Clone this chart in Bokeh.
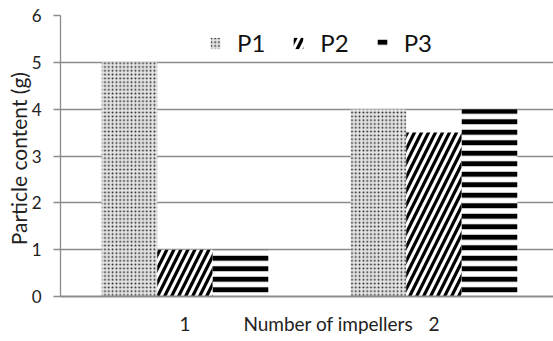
from bokeh.plotting import figure
from bokeh.models import Range1d, FixedTicker, Legend, LegendItem
from bokeh.embed import file_html
from bokeh.resources import INLINE

groups = ["1", "2"]
series = ["P1", "P2", "P3"]
p1 = [5, 4]
p2 = [1, 3.5]
p3 = [1, 4]
y_ticks = [0, 1, 2, 3, 4, 5, 6]
x_title = "Number of impellers"
y_title = "Particle  content (g)"

FONT = "Lato"
GRAY = "#8c8c8c"
X_TITLE_POS = 1.076   # where the x title sits along the category axis (layout only)

p = figure(width=553, height=341, output_backend="svg", toolbar_location=None,
           x_range=Range1d(0, 1.98), y_range=Range1d(0, 6),
           min_border_left=60, min_border_right=0, min_border_top=15, min_border_bottom=45)
p.outline_line_color = None
p.background_fill_color = "white"

centers = [i + 0.5 for i in range(len(groups))]
bw = 0.223
offs = [-bw, 0, bw]

styles = [
    dict(fill_color="#e4e4e4", hatch_pattern="dot", hatch_color="#222222", hatch_scale=3.8, hatch_weight=2.2),
    dict(fill_color="white", hatch_pattern="right_diagonal_line", hatch_color="black", hatch_scale=14, hatch_weight=3.2),
    dict(fill_color="white", hatch_pattern="horizontal_line", hatch_color="black", hatch_scale=10.5, hatch_weight=5),
]
renderers = []
for vals, off, st in zip([p1, p2, p3], offs, styles):
    r = p.vbar(x=[c + off for c in centers], top=vals, bottom=0, width=bw, line_color=None, **st)
    renderers.append(r)

# grid
p.xgrid.grid_line_color = None
p.ygrid.grid_line_color = GRAY
p.ygrid.grid_line_width = 1.3
p.ygrid.ticker = FixedTicker(ticks=y_ticks)

# y axis
p.yaxis.ticker = FixedTicker(ticks=y_ticks)
p.yaxis.axis_line_color = GRAY
p.yaxis.axis_line_width = 1.3
p.yaxis.major_tick_line_color = GRAY
p.yaxis.major_tick_line_width = 1.3
p.yaxis.major_tick_out = 7
p.yaxis.major_tick_in = 0
p.yaxis.minor_tick_line_color = None
p.yaxis.major_label_standoff = 12
p.yaxis.major_label_text_font = FONT
p.yaxis.major_label_text_font_size = "17px"
p.yaxis.major_label_text_color = "#222222"
p.yaxis.axis_label = y_title
p.yaxis.axis_label_text_font = FONT
p.yaxis.axis_label_text_font_size = "21px"
p.yaxis.axis_label_text_font_style = "normal"
p.yaxis.axis_label_text_color = "#222222"
p.yaxis.axis_label_standoff = -2

# x axis: category labels and the axis title share one line, as in the reference
x_label_ticks = centers + [X_TITLE_POS]
overrides = {c: g for c, g in zip(centers, groups)}
overrides[X_TITLE_POS] = x_title
p.xaxis.ticker = FixedTicker(ticks=sorted(x_label_ticks))
p.xaxis.major_label_overrides = overrides
p.xaxis.axis_line_color = GRAY
p.xaxis.axis_line_width = 2
p.xaxis.major_tick_line_color = None
p.xaxis.minor_tick_line_color = None
p.xaxis.major_tick_out = 0
p.xaxis.major_label_standoff = 15
p.xaxis.major_label_text_font = FONT
p.xaxis.major_label_text_font_size = "19px"
p.xaxis.major_label_text_color = "#222222"

legend = Legend(items=[LegendItem(label=s, renderers=[r]) for s, r in zip(series, renderers)],
                orientation="horizontal", location=(149, 239),
                glyph_width=12, glyph_height=14, label_standoff=16, spacing=27,
                padding=0, margin=0, border_line_color=None, background_fill_alpha=0,
                label_text_font=FONT, label_text_font_size="24px", label_text_color="#111111")
p.add_layout(legend)

open("out.html", "w").write(file_html(p, INLINE))
